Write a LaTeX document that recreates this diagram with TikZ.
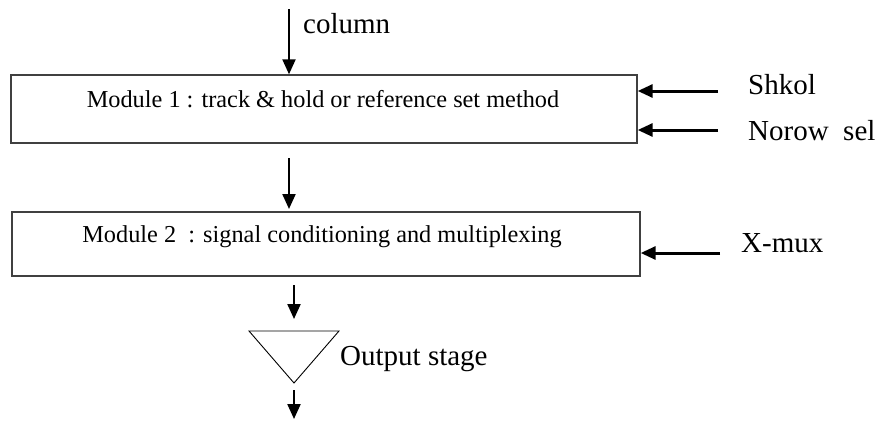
\documentclass[tikz,border=0pt]{standalone}
\usepackage{fontspec}
\setmainfont{Liberation Serif}
\usetikzlibrary{arrows.meta}
\begin{document}
\begin{tikzpicture}[x=1pt,y=-1pt,
  modbox/.style={draw=black!75,line width=1.4pt,minimum width=#1,inner sep=0pt},
  modtext/.style={font=\fontsize{24.3}{28}\selectfont,inner sep=0pt},
  lab/.style={font=\fontsize{29}{34}\selectfont,inner sep=0pt,anchor=west},
  varr/.style={line width=2.2pt,-{Triangle[length=15pt,width=13pt]}},
  harr/.style={line width=3pt,-{Triangle[length=15pt,width=13pt]}}]
\useasboundingbox (0,0) rectangle (875,423);
% module boxes
\node[modbox=626pt,minimum height=68pt] (m1) at (324,109) {};
\node[modtext] (m1t) at (323,99) {Module 1 : track \& hold or reference set method};
\node[modbox=628pt,minimum height=64pt] (m2) at (326,244) {};
\node[modtext] (m2t) at (322,237) {Module 2\ \ : signal conditioning and multiplexing};
% column input
\coordinate (colin) at (289,9);
\node[lab] (col) at (303,24) {column};
\draw[varr] (colin) -- (colin |- m1.north);
% side inputs
\node[lab] (shk) at (748,85) {Shkol};
\node[lab] (nrs) at (748,131) {Norow\ \ sel};
\node[lab] (xmx) at (741,243) {X-mux};
\coordinate (shkt) at (718,91);
\coordinate (nrst) at (718,130);
\coordinate (xmxt) at (720,253);
\draw[harr] (shkt) -- (shkt -| m1.east);
\draw[harr] (nrst) -- (nrst -| m1.east);
\draw[harr] (xmxt) -- (xmxt -| m2.east);
% between modules
\coordinate (a2s) at (289,158);
\coordinate (a2e) at (289,209);
\draw[varr] (a2s) -- (a2e);
% output stage
\coordinate (a3s) at (294,285);
\coordinate (a3e) at (294,319);
\draw[varr] (a3s) -- (a3e);
\coordinate (tl) at (249,331);
\coordinate (tr) at (339,331);
\coordinate (tb) at (294,383);
\draw[line width=0.9pt] (tl) -- (tr) -- (tb) -- cycle;
\node[lab] (out) at (340,359) {Output stage};
\coordinate (a4s) at (294,390);
\coordinate (a4e) at (294,419);
\draw[varr] (a4s) -- (a4e);
\end{tikzpicture}
\end{document}
